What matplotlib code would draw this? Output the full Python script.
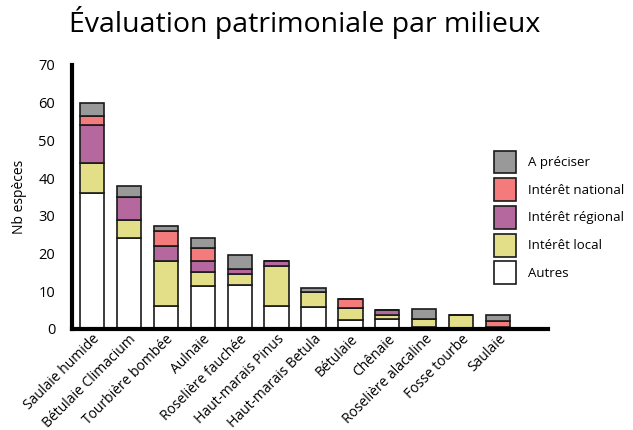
import matplotlib
matplotlib.use("Agg")
import matplotlib.pyplot as plt
import numpy as np

plt.rcParams["font.family"] = ["Open Sans", "DejaVu Sans"]

categories = ["Saulaie humide", "Bétulaie Climacium", "Tourbière bombée", "Aulnaie",
              "Roselière fauchée", "Haut-marais Pinus", "Haut-marais Betula", "Bétulaie",
              "Chênaie", "Roselière alacaline", "Fosse tourbe", "Saulaie"]
autres = [36, 24, 6, 11.5, 11.6, 6, 5.8, 2.5, 2.6, 0.5, 0, 0.5]
local = [8, 5, 12, 3.6, 3.1, 10.7, 3.9, 3.1, 1.0, 2.1, 3.6, 0]
regional = [10, 6, 4, 2.9, 1.3, 1.4, 0, 0, 1.5, 0, 0, 0]
national = [2.5, 0, 4, 3.4, 0, 0, 0, 2.3, 0, 0, 0, 1.6]
preciser = [3.5, 3, 1.3, 2.7, 3.6, 0, 1.1, 0, 0, 2.6, 0, 1.5]

series = [("Autres", autres, "#ffffff"),
          ("Intérêt local", local, "#e3df88"),
          ("Intérêt régional", regional, "#b5689e"),
          ("Intérêt national", national, "#f37b7b"),
          ("A préciser", preciser, "#999999")]

fig = plt.figure(figsize=(6.33, 4.30), dpi=100)
ax = fig.add_axes([0.1137, 0.235, 0.752, 0.614])

x = np.arange(len(categories))
bottom = np.zeros(len(categories))
handles = []
for name, vals, col in series:
    vals = np.array(vals, dtype=float)
    b = ax.bar(x, vals, 0.65, bottom=bottom, color=col, edgecolor="#1a1a1a",
               linewidth=1.2, label=name)
    handles.append(b)
    bottom += vals

ax.set_xlim(-0.53, 12.34)
ax.set_ylim(0, 70)
ax.set_yticks(range(0, 71, 10))
ax.tick_params(axis="y", length=0, pad=12, labelsize=10.5)
ax.tick_params(axis="x", length=0, pad=2, labelsize=10)
ax.set_xticks(x)
ax.set_xticklabels(categories, rotation=45, ha="right", va="top",
                   rotation_mode="anchor")
for s in ["top", "right"]:
    ax.spines[s].set_visible(False)
ax.spines["left"].set_linewidth(3)
ax.spines["bottom"].set_linewidth(3)
ax.set_ylabel("Nb espèces", fontsize=10, labelpad=8)

fig.suptitle("Évaluation patrimoniale par milieux", fontsize=20.5, x=0.482, y=0.985)

fig.legend(handles[::-1], [s[0] for s in series][::-1], loc="upper left",
           bbox_to_anchor=(0.78, 0.65), frameon=False, fontsize=9.5,
           handlelength=1.67, handleheight=2.3, labelspacing=0.36,
           handletextpad=0.9, borderpad=0, borderaxespad=0)

fig.savefig("out.png", dpi=100)
